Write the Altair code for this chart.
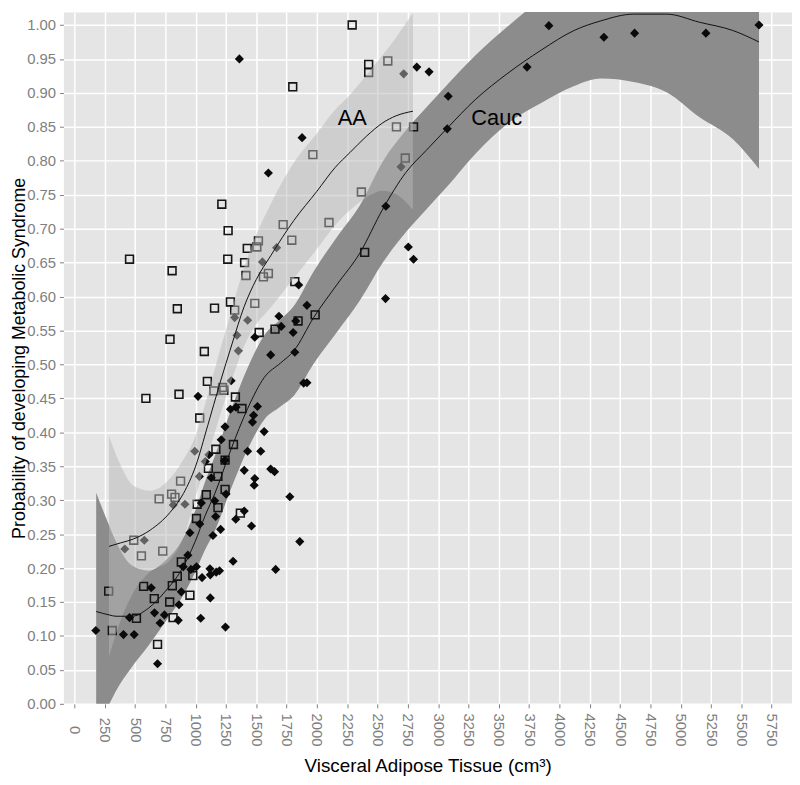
import altair as alt
import pandas as pd

# ---- scatter: African-American subjects (open squares) ----
aa_vat = [2291, 2427, 2427, 2585, 1801, 2656, 2797, 1967, 2729, 2367, 1216, 1722, 2100, 1268, 1793,
          1426, 1505, 1518, 2394, 455, 1265, 1404, 806, 1415, 1559, 1600, 1818, 1287, 1488, 1156,
          849, 1322, 1986, 1845, 1655, 1524, 789, 1072, 1097, 1222, 1151, 1233, 1328, 590, 863,
          1382, 1034, 1312, 1167, 1243, 1105, 1184, 876, 1243, 699, 802, 830, 1088, 1012, 1184,
          1369, 1007, 490, 553, 729, 882, 977, 849, 283, 571, 808, 659, 786, 953, 512,
          814, 313, 686]
aa_prob = [1.000, 0.942, 0.930, 0.947, 0.909, 0.850, 0.850, 0.809, 0.804, 0.754, 0.736, 0.706, 0.709, 0.697, 0.683,
           0.671, 0.673, 0.682, 0.665, 0.655, 0.655, 0.650, 0.638, 0.631, 0.629, 0.634, 0.622, 0.592, 0.590, 0.583,
           0.582, 0.580, 0.573, 0.564, 0.552, 0.547, 0.537, 0.519, 0.475, 0.466, 0.461, 0.462, 0.452, 0.450, 0.456,
           0.435, 0.421, 0.382, 0.375, 0.359, 0.347, 0.335, 0.328, 0.316, 0.302, 0.309, 0.304, 0.308, 0.294, 0.289,
           0.281, 0.273, 0.241, 0.218, 0.225, 0.209, 0.189, 0.188, 0.166, 0.173, 0.174, 0.155, 0.150, 0.160, 0.126,
           0.127, 0.108, 0.0875]

# ---- scatter: Caucasian subjects (filled diamonds) ----
cauc_vat = [1361, 1600, 1878, 2824, 2925, 2716, 3083, 3075, 3913, 3733, 4367, 4620, 5208, 5646, 2569,
            2694, 2754, 2797, 2566, 1668, 1551, 1850, 1918, 1322, 1687, 1706, 1826, 1804, 1429, 1341,
            1488, 1352, 1619, 1818, 1293, 1891, 1918, 1020, 1287, 1333, 1510, 1478, 1469, 1243, 1565,
            1211, 993, 1429, 1537, 1110, 1080, 1238, 1401, 1619, 1651, 1129, 1031, 1488, 1483, 1251,
            1777, 816, 912, 1047, 1157, 1401, 1331, 1461, 1165, 1034, 953, 1143, 1206, 577, 416,
            936, 1309, 1660, 1859, 898, 961, 1007, 1053, 1118, 1121, 1170, 1197, 634, 882, 863,
            1121, 661, 743, 455, 707, 857, 1042, 1246, 177, 405, 493, 686, 1243]
cauc_prob = [0.950, 0.782, 0.834, 0.938, 0.931, 0.928, 0.895, 0.847, 0.999, 0.938, 0.982, 0.988, 0.988, 1.000, 0.733,
             0.791, 0.673, 0.655, 0.597, 0.672, 0.651, 0.617, 0.587, 0.569, 0.571, 0.556, 0.564, 0.547, 0.565, 0.543,
             0.540, 0.520, 0.514, 0.518, 0.476, 0.4725, 0.473, 0.453, 0.434, 0.437, 0.438, 0.425, 0.415, 0.408, 0.401,
             0.389, 0.372, 0.372, 0.372, 0.367, 0.357, 0.358, 0.344, 0.346, 0.342, 0.333, 0.335, 0.332, 0.322, 0.309,
             0.305, 0.293, 0.294, 0.296, 0.299, 0.284, 0.272, 0.262, 0.276, 0.265, 0.252, 0.248, 0.257, 0.241, 0.228,
             0.219, 0.210, 0.198, 0.239, 0.202, 0.198, 0.202, 0.186, 0.199, 0.190, 0.194, 0.196, 0.171, 0.165, 0.146,
             0.156, 0.134, 0.131, 0.127, 0.119, 0.123, 0.126, 0.113, 0.108, 0.102, 0.102, 0.059, 0.359]

# ---- smoothed fits with confidence bands ----
aa_fit_vat = [286, 380, 490, 626, 789, 900, 1000, 1100, 1200, 1300, 1400, 1500, 1619, 1810, 2000,
              2150, 2272, 2408, 2544, 2650, 2792]
aa_fit = [0.232, 0.237, 0.243, 0.256, 0.282, 0.310, 0.350, 0.410, 0.472, 0.530, 0.585, 0.625, 0.660, 0.712, 0.755,
          0.790, 0.812, 0.836, 0.856, 0.866, 0.873]
aa_lo = [0.070, 0.122, 0.165, 0.195, 0.212, 0.245, 0.305, 0.365, 0.424, 0.478, 0.527, 0.559, 0.584, 0.627, 0.670,
         0.705, 0.727, 0.746, 0.756, 0.751, 0.728]
aa_hi = [0.394, 0.352, 0.321, 0.314, 0.332, 0.360, 0.395, 0.455, 0.520, 0.582, 0.643, 0.691, 0.736, 0.797, 0.840,
         0.875, 0.897, 0.926, 0.956, 0.981, 1.018]

cauc_fit_vat = [180, 286, 343, 473, 612, 751, 882, 996, 1078, 1159, 1290, 1429, 1567, 1700, 1810, 1973,
                2163, 2354, 2544, 2735, 2900, 3075, 3306, 3575, 3850, 4122, 4340, 4612, 4884, 5156, 5429, 5646]
cauc_fit = [0.136, 0.131, 0.129, 0.129, 0.141, 0.166, 0.197, 0.239, 0.277, 0.310, 0.374, 0.435, 0.481, 0.502, 0.520,
            0.569, 0.617, 0.664, 0.729, 0.783, 0.815, 0.848, 0.890, 0.929, 0.963, 0.992, 1.006, 1.016, 1.016, 1.004,
            0.992, 0.975]
cauc_lo = [-0.039, -0.001, 0.019, 0.054, 0.086, 0.121, 0.155, 0.194, 0.227, 0.255, 0.316, 0.375, 0.419, 0.438, 0.454,
           0.501, 0.547, 0.594, 0.650, 0.695, 0.728, 0.762, 0.810, 0.855, 0.885, 0.910, 0.921, 0.916, 0.901, 0.864,
           0.832, 0.788]
cauc_hi = [0.311, 0.263, 0.239, 0.204, 0.196, 0.211, 0.239, 0.284, 0.327, 0.365, 0.432, 0.495, 0.543, 0.566, 0.586,
           0.637, 0.687, 0.734, 0.799, 0.845, 0.878, 0.912, 0.955, 0.998, 1.038, 1.070, 1.091, 1.116, 1.131, 1.144,
           1.152, 1.162]

# ---- labels and ticks ----
group_labels = ["AA", "Cauc"]
label_vat = [2291, 3483]
label_prob = [0.863, 0.863]
x_ticks = [0, 250, 500, 750, 1000, 1250, 1500, 1750, 2000, 2250, 2500, 2750, 3000, 3250, 3500, 3750,
           4000, 4250, 4500, 4750, 5000, 5250, 5500, 5750]
y_ticks = [0.00, 0.05, 0.10, 0.15, 0.20, 0.25, 0.30, 0.35, 0.40, 0.45, 0.50, 0.55, 0.60, 0.65, 0.70,
           0.75, 0.80, 0.85, 0.90, 0.95, 1.00]

df_aa = pd.DataFrame({"vat": aa_vat, "prob": aa_prob})
df_cauc = pd.DataFrame({"vat": cauc_vat, "prob": cauc_prob})
df_aa_fit = pd.DataFrame({"vat": aa_fit_vat, "prob": aa_fit, "lo": aa_lo, "hi": aa_hi})
df_cauc_fit = pd.DataFrame({"vat": cauc_fit_vat, "prob": cauc_fit, "lo": cauc_lo, "hi": cauc_hi})
df_lab = pd.DataFrame({"vat": label_vat, "prob": label_prob, "txt": group_labels})

FONT = "Liberation Sans"
xscale = alt.Scale(domain=[-90, 5918], nice=False, zero=False)
yscale = alt.Scale(domain=[0, 1.0193], nice=False, zero=False)

xaxis = alt.Axis(values=x_ticks, format="d", labelAngle=90, labelAlign="center", labelBaseline="middle",
                 labelPadding=22, labelColor="#7f7f7f", labelFontSize=15, labelFont=FONT,
                 tickColor="#7f7f7f", tickSize=4, domain=False, grid=True, gridColor="white",
                 gridWidth=1.5, title="Visceral Adipose Tissue (cm³)", titleFont=FONT,
                 titleFontSize=19, titleFontWeight="normal", titleColor="black", titlePadding=11,
                 labelOverlap=False)
yaxis = alt.Axis(values=y_ticks, format=".2f", labelColor="#7f7f7f", labelFontSize=15, labelFont=FONT,
                 labelPadding=4, tickColor="#7f7f7f", tickSize=4, domain=False, grid=True,
                 gridColor="white", gridWidth=1.5, title="Probability of developing Metabolic Syndrome",
                 titleFont=FONT, titleFontSize=18, titleFontWeight="normal", titleColor="black",
                 titlePadding=-2, labelOverlap=False)


def X(field="vat"):
    return alt.X(f"{field}:Q", scale=xscale, axis=xaxis)


def Y(field="prob"):
    return alt.Y(f"{field}:Q", scale=yscale, axis=yaxis)


cauc_band = alt.Chart(df_cauc_fit).mark_area(color="#8c8c8c", opacity=1, clip=True,
                                             interpolate="monotone").encode(
    x=X(), y=Y("lo"), y2="hi:Q")

aa_points = alt.Chart(df_aa).mark_point(shape="square", filled=False, size=62, strokeWidth=1.6,
                                        color="#151515", opacity=1, clip=True).encode(x=X(), y=Y())

cauc_points = alt.Chart(df_cauc).mark_point(shape="diamond", filled=True, size=85, color="#0a0a0a",
                                            opacity=1, clip=True).encode(x=X(), y=Y())

aa_band = alt.Chart(df_aa_fit).mark_area(color="#b8b8b8", opacity=0.5, clip=True,
                                         interpolate="monotone").encode(
    x=X(), y=Y("lo"), y2="hi:Q")

aa_line = alt.Chart(df_aa_fit).mark_line(color="#111111", strokeWidth=1, clip=True,
                                         interpolate="monotone").encode(x=X(), y=Y())
cauc_line = alt.Chart(df_cauc_fit).mark_line(color="#111111", strokeWidth=1, clip=True,
                                             interpolate="monotone").encode(x=X(), y=Y())

labels = alt.Chart(df_lab).mark_text(font=FONT, fontSize=22, color="black").encode(
    x=X(), y=Y(), text="txt:N")

chart = alt.layer(cauc_band, aa_points, cauc_points, aa_band, aa_line, cauc_line, labels).properties(
    width=736, height=699,
    autosize=alt.AutoSizeParams(type="none"),
    padding={"left": 56, "top": 0, "right": 0, "bottom": 72},
).configure_view(fill="#E5E5E5", stroke="transparent")

chart.save("out.html", embed_options={"renderer": "svg", "actions": False})
